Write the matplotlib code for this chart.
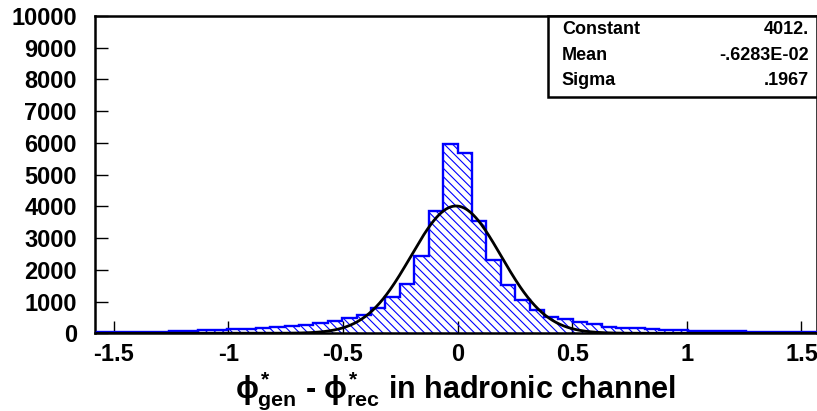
#!/usr/bin/env python3
"""phi*_gen - phi*_rec resolution in the hadronic channel, with Gaussian fit box."""

import matplotlib
matplotlib.use("Agg")
import matplotlib.pyplot as plt
from matplotlib.patches import Rectangle
import numpy as np

# ---------------------------------------------------------------------------
# Data
# ---------------------------------------------------------------------------

N_BINS = 50
HIST_RANGE = (-np.pi / 2, np.pi / 2)

# entries per bin, left to right
COUNTS = [
    50, 55, 35, 40, 50, 75, 80, 95, 110, 120,
    140, 160, 190, 230, 270, 320, 390, 470, 575, 800,
    1130, 1560, 2450, 3850, 5980, 5680, 3530, 2320, 1510, 1050,
    740, 525, 445, 370, 290, 210, 180, 160, 135, 105,
    100, 75, 80, 60, 70, 55, 45, 45, 45, 40,
]

# Gaussian fit results
FIT_CONSTANT = 4012.0
FIT_MEAN = -0.6283e-02
FIT_SIGMA = 0.1967

STAT_NAMES = ["Constant", "Mean", "Sigma"]
STAT_VALUES = ["4012.", "-.6283E-02", ".1967"]

X_TICKS = [-1.5, -1.0, -0.5, 0.0, 0.5, 1.0, 1.5]
X_TICK_LABELS = ["-1.5", "-1", "-0.5", "0", "0.5", "1", "1.5"]
Y_TICKS = list(range(0, 10001, 1000))

BLUE = "#0000ff"

plt.rcParams["font.family"] = ["Liberation Sans", "DejaVu Sans"]
plt.rcParams["font.weight"] = "bold"
plt.rcParams["mathtext.fontset"] = "custom"
plt.rcParams["mathtext.rm"] = "Liberation Sans:bold"
plt.rcParams["mathtext.it"] = "Liberation Sans:bold"
plt.rcParams["mathtext.bf"] = "Liberation Sans:bold"
plt.rcParams["hatch.linewidth"] = 0.8


def main() -> int:
    fig = plt.figure(figsize=(8.17, 4.11), dpi=100)
    ax = fig.add_axes([95 / 817, 77.7 / 411, 721.5 / 817, 317.3 / 411])

    edges = np.linspace(HIST_RANGE[0], HIST_RANGE[1], N_BINS + 1)
    counts = np.array(COUNTS, dtype=float)

    # hatched body, then the thick outline on top
    ax.stairs(counts, edges, fill=True, facecolor="none", edgecolor=BLUE,
              hatch="\\\\\\\\", linewidth=0, zorder=2)
    ax.stairs(counts, edges, color=BLUE, linewidth=1.7, zorder=3)

    xs = np.linspace(HIST_RANGE[0], HIST_RANGE[1], 800)
    gauss = FIT_CONSTANT * np.exp(-0.5 * ((xs - FIT_MEAN) / FIT_SIGMA) ** 2)
    ax.plot(xs, gauss, color="black", linewidth=2.0, zorder=4)

    ax.set_xlim(-1.581, 1.5656)
    ax.set_ylim(0, 10000)

    ax.set_xticks(X_TICKS)
    ax.set_xticklabels(X_TICK_LABELS)
    ax.set_yticks(Y_TICKS)
    ax.tick_params(axis="x", direction="in", length=8.6, width=1.0,
                   labelsize=17, pad=7)
    ax.tick_params(axis="y", direction="in", length=9.4, width=1.0,
                   labelsize=17, pad=13)
    for lab in ax.get_xticklabels() + ax.get_yticklabels():
        lab.set_fontweight("bold")
    for sp in ax.spines.values():
        sp.set_linewidth(1.8)

    ax.set_xlabel(r"$\phi^{*}_{gen}$ - $\phi^{*}_{rec}$ in hadronic channel",
                  fontsize=22, fontweight="bold", labelpad=2)

    # fit statistics box, top right
    ax.add_patch(Rectangle((0.628, 0.745), 0.372, 0.255, transform=ax.transAxes,
                           facecolor="white", edgecolor="black", linewidth=1.8,
                           zorder=6, clip_on=False))
    for i, (name, val) in enumerate(zip(STAT_NAMES, STAT_VALUES)):
        y = 0.956 - i * 0.079
        ax.text(0.647, y, name, transform=ax.transAxes, fontsize=13,
                fontweight="bold", va="center", ha="left", zorder=7)
        ax.text(0.990, y, val, transform=ax.transAxes, fontsize=13,
                fontweight="bold", va="center", ha="right", zorder=7)

    fig.savefig("out.png", dpi=100)
    plt.close(fig)
    return 0


if __name__ == "__main__":
    raise SystemExit(main())
